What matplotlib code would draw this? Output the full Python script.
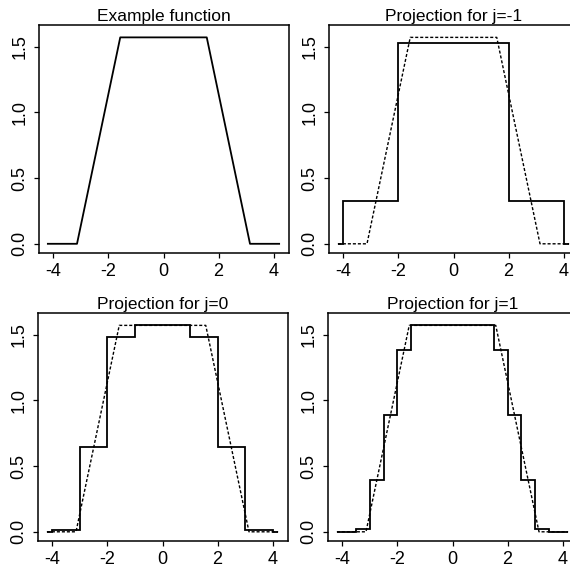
import matplotlib
matplotlib.use("Agg")
import matplotlib.pyplot as plt

plt.rcParams['font.family'] = ['Liberation Sans', 'DejaVu Sans']

# Example function (trapezoid) knots
fx = [-4.2, -3.1416, -1.5708, 1.5708, 3.1416, 4.2]
fy = [0.0, 0.0, 1.5708, 1.5708, 0.0, 0.0]

# Projection j=-1
edges_m1 = [-4.2, -4, -2, 0, 2, 4, 4.2]
vals_m1 = [0.0, 0.326, 1.525, 1.525, 0.326, 0.0]

# Projection j=0
edges_0 = [-4.2, -4, -3, -2, -1, 0, 1, 2, 3, 4, 4.2]
vals_0 = [0.0, 0.01, 0.642, 1.479, 1.571, 1.571, 1.479, 0.642, 0.01, 0.0]

# Projection j=1
edges_1 = [-4.2, -4, -3.5, -3, -2.5, -2, -1.5, -1, -0.5, 0, 0.5, 1, 1.5, 2, 2.5, 3, 3.5, 4, 4.2]
vals_1 = [0.0, 0.0, 0.02, 0.392, 0.892, 1.386, 1.571, 1.571, 1.571, 1.571, 1.571, 1.571,
          1.386, 0.892, 0.392, 0.02, 0.0, 0.0]

titles = ["Example function", "Projection for j=-1", "Projection for j=0", "Projection for j=1"]
xticks = [-4, -2, 0, 2, 4]
yticks = [0.0, 0.5, 1.0, 1.5]
ytlabels = ["0.0", "0.5", "1.0", "1.5"]

W, H = 570, 569
fig = plt.figure(figsize=(W / 100, H / 100), dpi=100)

# panel boxes in pixels: left, top, right, bottom
boxes = [(38.5, 25, 288.5, 253), (328.5, 25, 578.5, 253),
         (37.5, 313, 287.5, 541), (327.5, 313, 577.5, 541)]

axes = []
for (l, t, r, b) in boxes:
    ax = fig.add_axes([l / W, 1 - b / H, (r - l) / W, (b - t) / H])
    axes.append(ax)

dash = (0, (2.2, 1.4))

for i, ax in enumerate(axes):
    if i == 0:
        ax.plot(fx, fy, color='black', lw=1.3)
    else:
        ax.plot(fx, fy, color='black', lw=1.0, linestyle=dash)
        if i == 1:
            e, v = edges_m1, vals_m1
        elif i == 2:
            e, v = edges_0, vals_0
        else:
            e, v = edges_1, vals_1
        ax.stairs(v, e, baseline=None, color='black', lw=1.3)
    ax.set_xlim(-4.54, 4.54)
    ax.set_ylim(-0.07, 1.665)
    ax.set_xticks(xticks)
    ax.set_xticklabels([str(t) for t in xticks])
    ax.set_yticks(yticks)
    ax.set_yticklabels(ytlabels, rotation=90, va='center')
    ax.tick_params(axis='both', direction='out', length=3.3, width=0.9, labelsize=13)
    ax.tick_params(axis='x', pad=4)
    ax.tick_params(axis='y', pad=4)
    for s in ax.spines.values():
        s.set_linewidth(1.1)
    ax.set_title(titles[i], fontsize=12.5, pad=3)

fig.savefig("out.png", dpi=100)
